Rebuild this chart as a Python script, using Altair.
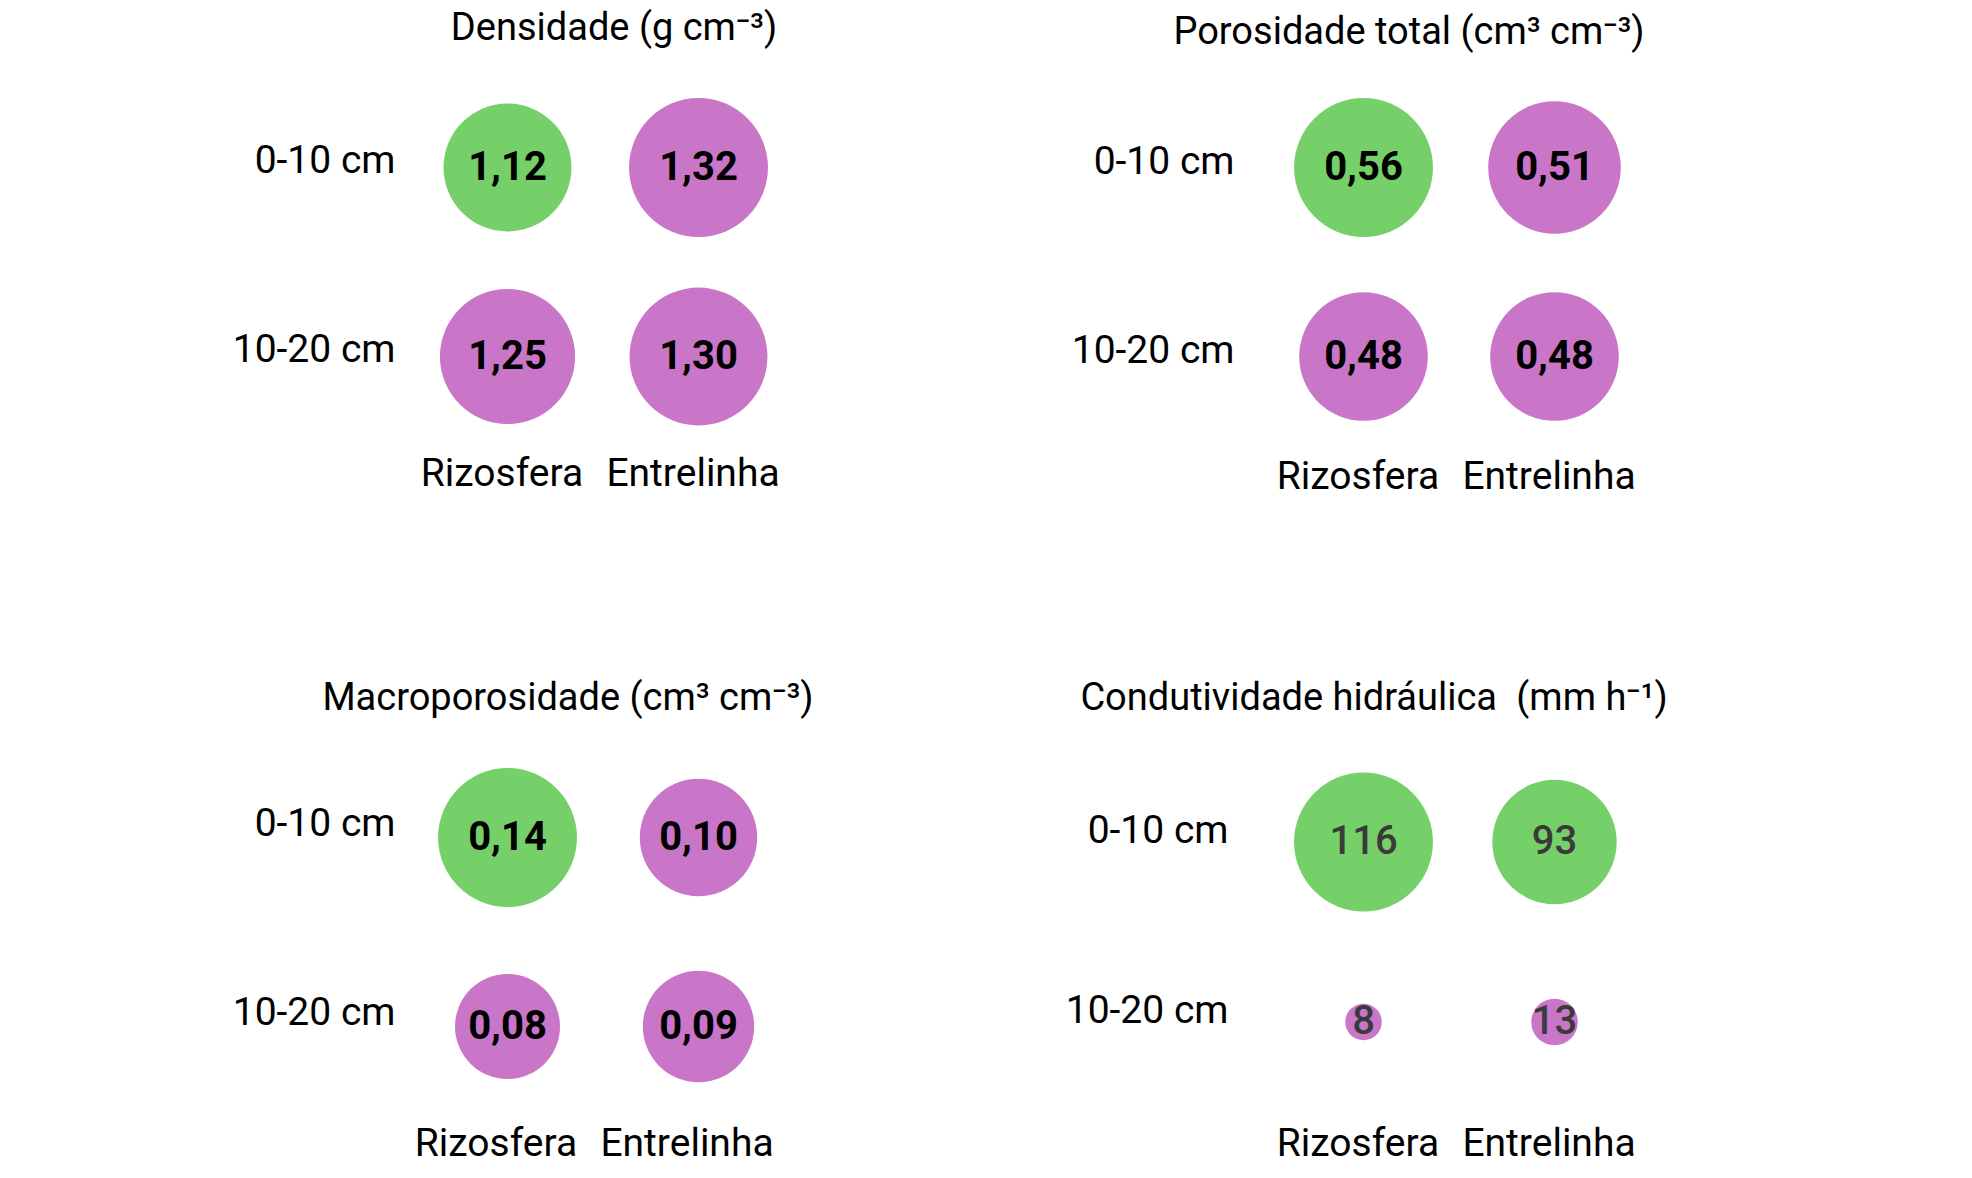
import altair as alt
import pandas as pd

# Categories shared by every panel
tratamentos = ["Rizosfera", "Entrelinha"]
profundidades = ["0-10 cm", "10-20 cm"]

# Values in the order: 0-10 Rizosfera, 0-10 Entrelinha, 10-20 Rizosfera, 10-20 Entrelinha
densidade = [1.12, 1.32, 1.25, 1.30]
porosidade_total = [0.56, 0.51, 0.48, 0.48]
macroporosidade = [0.14, 0.10, 0.08, 0.09]
condutividade = [116, 93, 8, 13]

# Colour group of each bubble (same order as the values)
grupos_densidade = ["verde", "roxo", "roxo", "roxo"]
grupos_porosidade = ["verde", "roxo", "roxo", "roxo"]
grupos_macro = ["verde", "roxo", "roxo", "roxo"]
grupos_condutividade = ["verde", "verde", "roxo", "roxo"]

titulos = [
    "Densidade (g cm⁻³)",
    "Porosidade total (cm³ cm⁻³)",
    "Macroporosidade (cm³ cm⁻³)",
    "Condutividade hidráulica\u2002(mm h⁻¹)",
]

VERDE = "#75D069"
ROXO = "#C975C8"
FONTE = "Roboto"
LARGURA = 382
ALTURA = 378
AREA_MAX = 19300


def painel(valores, grupos, casas, titulo, dx, dy, pad_y, cor_texto, peso,
           y_pad_rotulo, y_desloc, x_pad_rotulo, x_desloc):
    df = pd.DataFrame({
        "Tratamento": [t for p in profundidades for t in tratamentos],
        "Profundidade": [p for p in profundidades for t in tratamentos],
        "valor": valores,
        "grupo": grupos,
    })
    df["rotulo"] = [f"{v:.{casas}f}".replace(".", ",") for v in valores]

    x = alt.X(
        "Tratamento:N", sort=tratamentos,
        scale=alt.Scale(type="point", padding=0.5),
        axis=alt.Axis(title=None, orient="bottom", labelAngle=0, ticks=False,
                      domain=False, grid=False, labelPadding=x_pad_rotulo,
                      labelOffset=x_desloc,
                      labelFont=FONTE, labelFontSize=39, labelColor="#000000"),
    )
    y = alt.Y(
        "Profundidade:N", sort=profundidades,
        scale=alt.Scale(type="point", padding=pad_y),
        axis=alt.Axis(title=None, orient="left", ticks=False, domain=False,
                      grid=False, labelPadding=y_pad_rotulo, labelOffset=y_desloc,
                      labelFont=FONTE, labelFontSize=39, labelColor="#000000"),
    )
    base = alt.Chart(df).encode(x=x, y=y)
    bolhas = base.mark_circle(opacity=1).encode(
        size=alt.Size("valor:Q", legend=None,
                      scale=alt.Scale(domain=[0, max(valores)], range=[0, AREA_MAX])),
        color=alt.Color("grupo:N", legend=None,
                        scale=alt.Scale(domain=["verde", "roxo"], range=[VERDE, ROXO])),
    )
    textos = base.mark_text(font=FONTE, fontSize=40, fontWeight=peso,
                            color=cor_texto, baseline="middle").encode(text="rotulo:N")
    return alt.layer(bolhas, textos).properties(
        width=LARGURA, height=ALTURA,
        title=alt.TitleParams(titulo, font=FONTE, fontSize=38, fontWeight="normal",
                              color="#000000", anchor="middle", frame="group",
                              dx=dx, dy=dy, offset=25),
    )


p1 = painel(densidade, grupos_densidade, 2, titulos[0], 11, 0, 0.5,
            "#000000", "bold", 17, -7, 3, -6)
p2 = painel(porosidade_total, grupos_porosidade, 2, titulos[1], -50, 4, 0.5,
            "#000000", "bold", 34, -6, 6, -6)
p3 = painel(macroporosidade, grupos_macro, 2, titulos[2], -35, 0, 0.5,
            "#000000", "bold", 17, -14, 3, -12)
p4 = painel(condutividade, grupos_condutividade, 0, titulos[3], -85, 0, 0.55,
            "#3A3A3A", 500, 40, -12, 3, -6)

chart = alt.concat(
    p1, p2, p3, p4, columns=2,
    spacing=alt.RowColnumber(row=292, column=474),
    bounds="flush",
).resolve_scale(
    x="independent", y="independent", size="independent"
).properties(
    padding={"left": 232, "top": 10, "right": 20, "bottom": 10},
    background="#FFFFFF",
).configure_view(stroke=None)

chart.save("out.html", embed_options={"renderer": "svg", "actions": False})
